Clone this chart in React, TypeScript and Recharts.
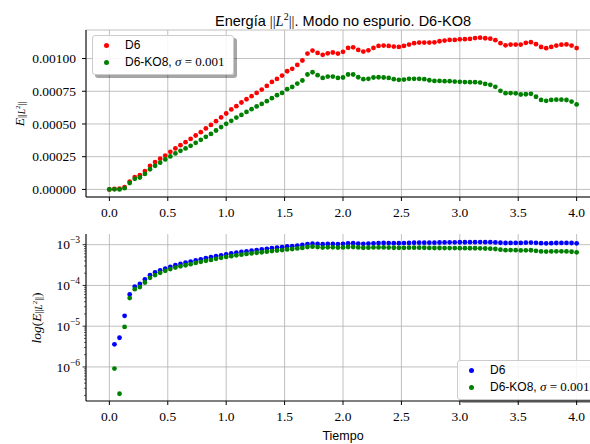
import React from 'react';
import { LineChart, Line, XAxis, YAxis, CartesianGrid, Legend } from 'recharts';

// time samples (dt = 1/23)
const tiempo = [
  0, 0.0435, 0.087, 0.1304, 0.1739, 0.2174, 0.2609, 0.3043, 0.3478, 0.3913,
  0.4348, 0.4783, 0.5217, 0.5652, 0.6087, 0.6522, 0.6957, 0.7391, 0.7826, 0.8261,
  0.8696, 0.913, 0.9565, 1.0, 1.0435, 1.087, 1.1304, 1.1739, 1.2174, 1.2609,
  1.3043, 1.3478, 1.3913, 1.4348, 1.4783, 1.5217, 1.5652, 1.6087, 1.6522, 1.6957,
  1.7391, 1.7826, 1.8261, 1.8696, 1.913, 1.9565, 2.0, 2.0435, 2.087, 2.1304,
  2.1739, 2.2174, 2.2609, 2.3043, 2.3478, 2.3913, 2.4348, 2.4783, 2.5217, 2.5652,
  2.6087, 2.6522, 2.6957, 2.7391, 2.7826, 2.8261, 2.8696, 2.913, 2.9565, 3.0,
  3.0435, 3.087, 3.1304, 3.1739, 3.2174, 3.2609, 3.3043, 3.3478, 3.3913, 3.4348,
  3.4783, 3.5217, 3.5652, 3.6087, 3.6522, 3.6957, 3.7391, 3.7826, 3.8261, 3.8696,
  3.913, 3.9565, 4.0,
];

const energiaD6 = [
  0, 3.6e-6, 5.2e-6, 1.8e-5, 6.0e-5, 9.4e-5, 1.09e-4, 1.40e-4, 1.79e-4, 2.09e-4,
  2.35e-4, 2.58e-4, 2.87e-4, 3.13e-4, 3.38e-4, 3.61e-4, 3.86e-4, 4.12e-4, 4.37e-4, 4.66e-4,
  4.93e-4, 5.21e-4, 5.50e-4, 5.80e-4, 6.11e-4, 6.36e-4, 6.64e-4, 6.89e-4, 7.12e-4, 7.37e-4,
  7.63e-4, 7.91e-4, 8.21e-4, 8.44e-4, 8.70e-4, 9.03e-4, 9.21e-4, 9.51e-4, 9.85e-4, 1.038e-3,
  1.061e-3, 1.043e-3, 1.028e-3, 1.040e-3, 1.046e-3, 1.038e-3, 1.051e-3, 1.081e-3, 1.086e-3, 1.066e-3,
  1.053e-3, 1.063e-3, 1.081e-3, 1.096e-3, 1.099e-3, 1.096e-3, 1.091e-3, 1.089e-3, 1.096e-3, 1.107e-3,
  1.117e-3, 1.122e-3, 1.122e-3, 1.122e-3, 1.124e-3, 1.132e-3, 1.137e-3, 1.142e-3, 1.142e-3, 1.147e-3,
  1.148e-3, 1.150e-3, 1.156e-3, 1.159e-3, 1.155e-3, 1.152e-3, 1.140e-3, 1.117e-3, 1.101e-3, 1.107e-3,
  1.107e-3, 1.107e-3, 1.120e-3, 1.125e-3, 1.110e-3, 1.088e-3, 1.079e-3, 1.089e-3, 1.099e-3, 1.106e-3,
  1.108e-3, 1.099e-3, 1.080e-3,
];

const energiaKO8 = [
  0, 9.1e-7, 2.2e-7, 9.6e-6, 4.9e-5, 8.1e-5, 9.1e-5, 1.18e-4, 1.54e-4, 1.80e-4,
  2.04e-4, 2.29e-4, 2.52e-4, 2.75e-4, 2.95e-4, 3.13e-4, 3.33e-4, 3.56e-4, 3.79e-4, 4.02e-4,
  4.24e-4, 4.50e-4, 4.76e-4, 5.01e-4, 5.24e-4, 5.49e-4, 5.69e-4, 5.92e-4, 6.13e-4, 6.34e-4,
  6.53e-4, 6.74e-4, 6.97e-4, 7.20e-4, 7.37e-4, 7.66e-4, 7.83e-4, 8.09e-4, 8.32e-4, 8.78e-4,
  8.95e-4, 8.73e-4, 8.52e-4, 8.62e-4, 8.62e-4, 8.52e-4, 8.55e-4, 8.78e-4, 8.78e-4, 8.57e-4,
  8.42e-4, 8.45e-4, 8.55e-4, 8.57e-4, 8.55e-4, 8.52e-4, 8.42e-4, 8.37e-4, 8.39e-4, 8.45e-4,
  8.45e-4, 8.45e-4, 8.42e-4, 8.34e-4, 8.29e-4, 8.29e-4, 8.27e-4, 8.27e-4, 8.24e-4, 8.22e-4,
  8.20e-4, 8.19e-4, 8.19e-4, 8.16e-4, 8.06e-4, 7.99e-4, 7.84e-4, 7.53e-4, 7.35e-4, 7.36e-4,
  7.34e-4, 7.25e-4, 7.27e-4, 7.30e-4, 7.08e-4, 6.84e-4, 6.77e-4, 6.84e-4, 6.86e-4, 6.86e-4,
  6.83e-4, 6.71e-4, 6.49e-4,
];

const xTicks = [0, 0.5, 1, 1.5, 2, 2.5, 3, 3.5, 4];
const linTicks = [0, 0.00025, 0.0005, 0.00075, 0.001];
const logMajor = [1e-6, 1e-5, 1e-4, 1e-3];

const LOG_MIN = 1.46e-7;
const LOG_MAX = 1.83e-3;

// decade ticks plus the 2..9 minor ones inside the visible range
const logTicks: number[] = [];
for (let e = -7; e <= -3; e++) {
  for (let m = 1; m <= 9; m++) {
    const v = m * Math.pow(10, e);
    if (v >= LOG_MIN && v <= LOG_MAX) logTicks.push(v);
  }
}

const linRows = tiempo.map((t, i) => ({ t, d6: energiaD6[i], ko8: energiaKO8[i] }));
const logRows = tiempo.map((t, i) => ({
  t,
  d6: energiaD6[i] > 0 ? energiaD6[i] : null,
  ko8: energiaKO8[i] > 0 ? energiaKO8[i] : null,
}));

const SERIF = "'Liberation Serif', 'DejaVu Serif', serif";
const SANS = "'Liberation Sans', 'DejaVu Sans', sans-serif";

const W = 620;
const tickStyle = { fontFamily: SERIF, fontSize: 13.5, fill: '#000' };

const LogTick = (props: any) => {
  const { x, y, payload } = props;
  const v = payload.value;
  const exp = Math.round(Math.log10(v));
  const major = Math.abs(v - Math.pow(10, exp)) < v * 1e-6;
  const spine = x + 7;
  return (
    <g>
      <line x1={spine - (major ? 3.5 : 2)} x2={spine} y1={y} y2={y} stroke="#000" strokeWidth={major ? 0.8 : 0.6} />
      {major && (
        <text x={spine - 6} y={y} dy="0.35em" textAnchor="end" fontFamily={SERIF} fontSize={13.5} fill="#000">
          10
          <tspan dy={-6} fontSize={9.5}>{'\u2212' + -exp}</tspan>
        </text>
      )}
    </g>
  );
};

const Sub = () => (
  <>
    <tspan fontSize={9.5} dy={3}>||</tspan>
    <tspan fontSize={9.5} fontStyle="italic">L</tspan>
    <tspan fontSize={7} dy={-4}>2</tspan>
    <tspan fontSize={9.5} dy={4}>||</tspan>
  </>
);

const TopYLabel = () => (
  <text transform="rotate(-90 19 114)" x={19} y={114} textAnchor="middle" dominantBaseline="central" fontFamily={SERIF} fontSize={13.5} fill="#000">
    <tspan fontStyle="italic">E</tspan>
    <Sub />
  </text>
);

const LogYLabel = () => (
  <text transform="rotate(-90 36 96)" x={36} y={96} textAnchor="middle" dominantBaseline="central" fontFamily={SERIF} fontSize={13.5} fill="#000">
    <tspan fontStyle="italic">log</tspan>
    <tspan>(</tspan>
    <tspan fontStyle="italic">E</tspan>
    <Sub />
    <tspan dy={-3}>)</tspan>
  </text>
);

const XLabel = () => (
  <text x={343} y={214} textAnchor="middle" dominantBaseline="central" fontFamily={SANS} fontSize={12.5} fill="#000">
    Tiempo
  </text>
);

const KoLabel = () => (
  <span>
    D6-KO8, <span style={{ fontFamily: SERIF, fontStyle: 'italic', fontSize: 13 }}>σ</span>
    <span style={{ fontFamily: SERIF, fontSize: 13 }}> = 0.001</span>
  </span>
);

const LegendBox = ({ first }: { first: string }) => (
  <div
    style={{
      background: 'rgba(255,255,255,0.85)',
      border: '1px solid #cccccc',
      borderRadius: 3,
      boxShadow: '3px 3px 0 rgba(0,0,0,0.35)',
      padding: '2px 8px 3px 11px',
      fontFamily: SANS,
      fontSize: 12,
      lineHeight: '15.8px',
      color: '#000',
      whiteSpace: 'nowrap',
    }}
  >
    {[
      { color: first, label: <span>D6</span> },
      { color: '#008000', label: <KoLabel /> },
    ].map((it, i) => (
      <div key={i} style={{ display: 'flex', alignItems: 'center' }}>
        <span style={{ width: 5, height: 5, borderRadius: '50%', background: it.color, display: 'inline-block', marginRight: 16 }} />
        {it.label}
      </div>
    ))}
  </div>
);

const dot = (fill: string) => ({ r: 2.4, fill, stroke: 'none', strokeWidth: 0 });

export default function App() {
  return (
    <div style={{ position: 'absolute', left: 0, top: 0, width: 590, height: 444, overflow: 'hidden', background: '#fff' }}>
      <div
        style={{
          position: 'absolute', left: 0, top: 8, width: 686, textAlign: 'center',
          fontFamily: SANS, fontSize: 14.5, lineHeight: '18px', color: '#000',
        }}
      >
        Energía <span style={{ fontFamily: SERIF }}>||</span>
        <span style={{ fontFamily: SERIF, fontStyle: 'italic' }}>L</span>
        <sup style={{ fontFamily: SERIF, fontSize: 10 }}>2</sup>
        <span style={{ fontFamily: SERIF }}>||</span>. Modo no espurio. D6-KO8
      </div>

      <div style={{ position: 'absolute', left: 0, top: 0 }}>
        <LineChart width={W} height={222} data={linRows} margin={{ top: 30, right: 20, bottom: 0, left: 6 }}>
          <CartesianGrid stroke="#b0b0b0" strokeWidth={0.8} />
          <XAxis dataKey="t" type="number" domain={[-0.2, 4.2]} ticks={xTicks} tickFormatter={(v: number) => v.toFixed(1)}
            height={25} tickSize={4} tickMargin={6} tick={tickStyle} stroke="#000" allowDataOverflow />
          <XAxis xAxisId="top" orientation="top" type="number" domain={[-0.2, 4.2]} height={0} tick={false} tickLine={false} stroke="#000" />
          <YAxis type="number" domain={[-0.000058, 0.001218]} ticks={linTicks} tickFormatter={(v: number) => v.toFixed(5)}
            width={80} tickSize={4} tickMargin={6} tick={tickStyle} stroke="#000" allowDataOverflow label={<TopYLabel />} />
          <Legend layout="vertical" align="center" verticalAlign="middle" wrapperStyle={{ left: 92, top: 35, width: 'auto' }}
            content={() => <LegendBox first="#ff0000" />} />
          <Line dataKey="d6" stroke="none" isAnimationActive={false} dot={dot('#ff0000')} activeDot={false} />
          <Line dataKey="ko8" stroke="none" isAnimationActive={false} dot={dot('#008000')} activeDot={false} />
        </LineChart>
      </div>

      <div style={{ position: 'absolute', left: 0, top: 222 }}>
        <LineChart width={W} height={222} data={logRows} margin={{ top: 12, right: 20, bottom: 0, left: 6 }}>
          <CartesianGrid stroke="#b0b0b0" strokeWidth={0.8} horizontalValues={logMajor} />
          <XAxis dataKey="t" type="number" domain={[-0.2, 4.2]} ticks={xTicks} tickFormatter={(v: number) => v.toFixed(1)}
            height={43} tickSize={4} tickMargin={6} tick={tickStyle} stroke="#000" allowDataOverflow label={<XLabel />} />
          <XAxis xAxisId="top" orientation="top" type="number" domain={[-0.2, 4.2]} height={0} tick={false} tickLine={false} stroke="#000" />
          <YAxis type="number" scale="log" domain={[LOG_MIN, LOG_MAX]} ticks={logTicks} interval={0}
            width={80} tickSize={4} tickMargin={3} tickLine={false} tick={<LogTick />} stroke="#000" allowDataOverflow label={<LogYLabel />} />
          <Legend layout="vertical" align="center" verticalAlign="middle" wrapperStyle={{ left: 457, top: 138, width: 'auto' }}
            content={() => <LegendBox first="#0000ff" />} />
          <Line dataKey="d6" stroke="none" isAnimationActive={false} dot={dot('#0000ff')} activeDot={false} />
          <Line dataKey="ko8" stroke="none" isAnimationActive={false} dot={dot('#008000')} activeDot={false} />
        </LineChart>
      </div>
    </div>
  );
}
